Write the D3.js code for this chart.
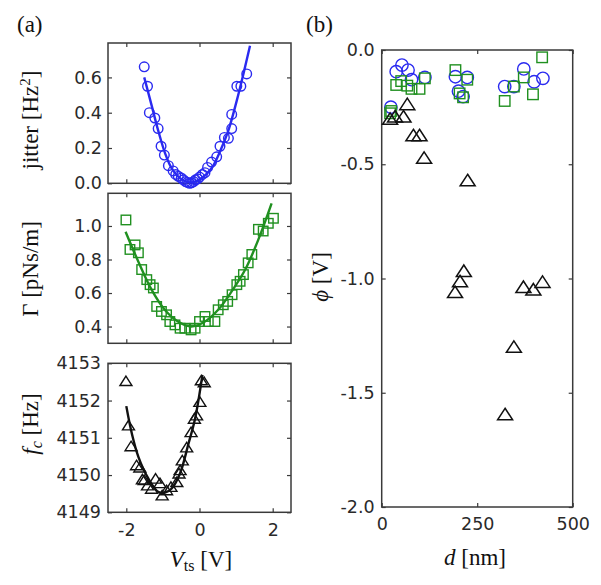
<!DOCTYPE html>
<html>
<head>
<meta charset="utf-8">
<script src="https://cdn.jsdelivr.net/npm/d3@7"></script>
<style>
  html, body { margin: 0; padding: 0; background: #fff; }
  svg { display: block; }
  .tick text { font-family: "DejaVu Sans", sans-serif; font-size: 17.5px; fill: #2a2a2a; }
  .lbl { font-family: "Liberation Serif", "Times New Roman", serif; font-size: 23px; fill: #111; }
</style>
</head>
<body>
<svg id="chart" width="601" height="585"></svg>
<script>
// ---------------- data ----------------
// Panel (a) top: jitter vs V_ts
const vtsJitter = [-1.51,-1.42,-1.37,-1.22,-1.13,-1.05,-0.96,-0.85,-0.72,-0.65,-0.58,-0.5,-0.44,-0.38,-0.33,-0.27,-0.22,-0.16,-0.11,-0.05,0.0,0.08,0.15,0.22,0.33,0.47,0.56,0.68,0.79,0.88,0.88,1.02,1.13,1.29];
const jitter    = [0.66,0.55,0.40,0.37,0.31,0.21,0.16,0.10,0.07,0.05,0.04,0.03,0.02,0.01,0.005,0.0,0.003,0.01,0.02,0.025,0.035,0.05,0.06,0.09,0.12,0.15,0.21,0.26,0.255,0.31,0.39,0.55,0.55,0.62];
const jitterFitV = [-1.51,-1.31,-1.13,-0.94,-0.76,-0.49,-0.22,0.06,0.33,0.56,0.79,1.02,1.20,1.38];
const jitterFit  = [0.60,0.443,0.30,0.17,0.085,0.023,0.005,0.03,0.085,0.18,0.30,0.47,0.62,0.78];

// Panel (a) middle: Gamma vs V_ts
const vtsGamma = [-2.01,-1.90,-1.76,-1.67,-1.58,-1.44,-1.35,-1.26,-1.17,-1.04,-0.90,-0.81,-0.67,-0.53,-0.40,-0.23,-0.12,0.0,0.15,0.24,0.42,0.51,0.65,0.77,0.89,1.02,1.11,1.20,1.33,1.43,1.61,1.74,1.88,2.02];
const gamma    = [1.036,0.86,0.887,0.84,0.74,0.68,0.65,0.63,0.52,0.49,0.47,0.43,0.41,0.39,0.39,0.38,0.39,0.43,0.46,0.43,0.43,0.50,0.53,0.55,0.59,0.65,0.67,0.71,0.78,0.83,0.98,0.97,1.016,1.046];
const gammaFitV = [-2.02,-1.67,-1.31,-0.95,-0.59,-0.22,0.15,0.51,0.88,1.25,1.61,1.97];
const gammaFit  = [0.966,0.787,0.62,0.50,0.43,0.40,0.43,0.50,0.61,0.74,0.92,1.135];

// Panel (a) bottom: f_c vs V_ts
const vtsFc = [-2.01,-1.94,-1.87,-1.72,-1.63,-1.56,-1.51,-1.42,-1.31,-1.20,-1.08,-1.02,-0.90,-0.78,-0.62,-0.56,-0.53,-0.47,-0.35,-0.23,-0.14,-0.08,0.01,0.05,0.13];
const fc    = [4152.53,4151.34,4150.78,4150.27,4150.21,4149.89,4149.87,4149.73,4149.64,4149.91,4149.79,4149.46,4149.60,4149.69,4149.82,4150.05,4150.14,4150.40,4150.75,4151.16,4151.52,4151.61,4151.97,4152.55,4152.50];
const fcFitV = [-2.0,-1.85,-1.67,-1.40,-1.13,-0.94,-0.76,-0.53,-0.31,-0.12,0.08];
const fcFit  = [4151.85,4151.12,4150.49,4149.91,4149.55,4149.53,4149.64,4150.05,4150.81,4151.52,4152.69];

// Panel (b): phi vs d
const dCircle   = [24,38,53,69,78,113,193,201,213,224,322,346,372,399,422];
const phiCircle = [-0.25,-0.095,-0.066,-0.088,-0.13,-0.12,-0.117,-0.18,-0.204,-0.12,-0.16,-0.16,-0.083,-0.139,-0.124];
const dSquare   = [22,25,38,51,67,78,99,113,193,204,213,224,322,346,372,396,420];
const phiSquare = [-0.277,-0.267,-0.153,-0.136,-0.156,-0.17,-0.17,-0.124,-0.088,-0.19,-0.207,-0.13,-0.223,-0.16,-0.12,-0.194,-0.032];
const dTriangle   = [22,35,57,67,83,99,111,225,192,205,215,346,323,371,397,421];
const phiTriangle = [-0.30,-0.29,-0.29,-0.236,-0.372,-0.372,-0.471,-0.569,-1.058,-1.011,-0.966,-1.298,-1.593,-1.036,-1.047,-1.014];

// tick labels
const vtsTicks = [-2, 0, 2];
const jitterTicks = [0.0, 0.2, 0.4, 0.6];
const gammaTicks = [0.4, 0.6, 0.8, 1.0];
const fcTicks = [4149, 4150, 4151, 4152, 4153];
const dTicks = [0, 250, 500];
const phiTicks = [0.0, -0.5, -1.0, -1.5, -2.0];

// ---------------- drawing ----------------
const svg = d3.select("#chart");
const BLUE = "#2a2af0", GREEN = "#209020", BLACK = "#111";
const AXC = "#3a3a3a";

const xA = d3.scaleLinear([-2.5, 2.5], [108, 291]);
const yTop = d3.scaleLinear([0, 0.795], [183.3, 43]);
const yMid = d3.scaleLinear([0.3, 1.195], [343.3, 193.3]);
const yBot = d3.scaleLinear([4149, 4153], [512.3, 363.3]);
const xB = d3.scaleLinear([0, 500], [381.7, 572.7]);
const yB = d3.scaleLinear([-2, 0], [507, 50]);

function frame(x, y, xt, yt, opts) {
  const g = svg.append("g");
  const [x0, x1] = x.range(), [y0, y1] = y.range();
  const la = d3.axisLeft(y).tickValues(yt).tickSize(-4).tickPadding(opts.ypad)
    .tickFormat(opts.yfmt);
  g.append("g").attr("transform", `translate(${x0},0)`).call(la);
  const ra = d3.axisRight(y).tickValues(yt).tickSize(-4).tickFormat("");
  g.append("g").attr("transform", `translate(${x1},0)`).call(ra);
  const ba = d3.axisBottom(x).tickValues(xt).tickSize(-4).tickPadding(11)
    .tickFormat(opts.xlabels ? opts.xfmt : "");
  g.append("g").attr("transform", `translate(0,${y0})`).call(ba);
  const ta = d3.axisTop(x).tickValues(xt).tickSize(-4).tickFormat("");
  g.append("g").attr("transform", `translate(0,${y1})`).call(ta);
  g.selectAll(".domain").remove();
  g.selectAll(".tick line").attr("stroke", AXC).attr("stroke-width", 1.2);
  g.append("rect").attr("x", x0).attr("y", y1).attr("width", x1 - x0).attr("height", y0 - y1)
    .attr("fill", "none").attr("stroke", AXC).attr("stroke-width", 1.5);
  return g;
}

function fitLine(x, y, xs, ys, color) {
  const line = d3.line().x((d, i) => x(xs[i])).y((d, i) => y(ys[i])).curve(d3.curveCatmullRom);
  svg.append("path").attr("d", line(xs)).attr("fill", "none")
    .attr("stroke", color).attr("stroke-width", 2.4);
}

function circles(x, y, xs, ys, r, color, sw) {
  svg.append("g").selectAll("circle").data(xs).join("circle")
    .attr("cx", (d) => x(d)).attr("cy", (d, i) => y(ys[i])).attr("r", r)
    .attr("fill", "none").attr("stroke", color).attr("stroke-width", sw);
}
function squares(x, y, xs, ys, s, color, sw) {
  svg.append("g").selectAll("rect").data(xs).join("rect")
    .attr("x", (d) => x(d) - s / 2).attr("y", (d, i) => y(ys[i]) - s / 2)
    .attr("width", s).attr("height", s)
    .attr("fill", "none").attr("stroke", color).attr("stroke-width", sw);
}
function triangles(x, y, xs, ys, w, h, color, sw) {
  svg.append("g").selectAll("path").data(xs).join("path")
    .attr("d", (d, i) => {
      const cx = x(d), cy = y(ys[i]);
      return `M${cx},${cy - h / 2}L${cx + w / 2},${cy + h / 2}L${cx - w / 2},${cy + h / 2}Z`;
    })
    .attr("fill", "none").attr("stroke", color).attr("stroke-width", sw);
}

const f1 = d3.format(".1f");

// top panel
frame(xA, yTop, vtsTicks, jitterTicks, { ypad: 6, yfmt: f1, xlabels: false });
fitLine(xA, yTop, jitterFitV, jitterFit, BLUE);
circles(xA, yTop, vtsJitter, jitter, 4.8, BLUE, 1.4);

// middle panel
frame(xA, yMid, vtsTicks, gammaTicks, { ypad: 6, yfmt: f1, xlabels: false });
fitLine(xA, yMid, gammaFitV, gammaFit, GREEN);
squares(xA, yMid, vtsGamma, gamma, 9.5, GREEN, 1.4);

// bottom panel
frame(xA, yBot, vtsTicks, fcTicks, { ypad: 7, yfmt: d3.format("d"), xlabels: true, xfmt: d3.format("d") });
fitLine(xA, yBot, fcFitV, fcFit, BLACK);
triangles(xA, yBot, vtsFc, fc, 12, 9.5, BLACK, 1.4);

// panel b
frame(xB, yB, dTicks, phiTicks, { ypad: 7, yfmt: f1, xlabels: true, xfmt: d3.format("d") });
circles(xB, yB, dCircle, phiCircle, 6.2, BLUE, 1.4);
squares(xB, yB, dSquare, phiSquare, 10.5, GREEN, 1.4);
triangles(xB, yB, dTriangle, phiTriangle, 15, 11.5, BLACK, 1.5);

// use the plain hyphen for negative tick labels
svg.selectAll(".tick text").text(function () { return d3.select(this).text().replace("\u2212", "-"); });

// ---------------- labels ----------------
function label(x, y, rot, parts, anchor) {
  const t = svg.append("text").attr("class", "lbl")
    .attr("text-anchor", anchor || "middle")
    .attr("transform", `translate(${x},${y})` + (rot ? ` rotate(${rot})` : ""));
  parts.forEach((p) => {
    const s = t.append("tspan").text(p.t);
    if (p.i) s.attr("font-style", "italic");
    if (p.size) s.attr("font-size", p.size);
    if (p.dy) s.attr("dy", p.dy);
  });
  return t;
}

label(17, 32, 0, [{ t: "(a)" }], "start");
label(306, 32, 0, [{ t: "(b)" }], "start");

label(38, 120, -90, [{ t: "jitter [Hz" }, { t: "2", size: "15px", dy: "-8" }, { t: "]", dy: "8" }]);
label(38, 269, -90, [{ t: "Γ [pNs/m]" }]);
label(38, 424, -90, [{ t: "f", i: true }, { t: "c", i: true, size: "16px", dy: "4" }, { t: " [Hz]", dy: "-4" }]);
label(201, 567, 0, [{ t: "V", i: true }, { t: "ts", size: "16px", dy: "4" }, { t: " [V]", dy: "-4" }]);
label(328, 277, -90, [{ t: "ϕ", i: true }, { t: " [V]" }]);
label(475, 565, 0, [{ t: "d", i: true }, { t: " [nm]" }]);
</script>
</body>
</html>
